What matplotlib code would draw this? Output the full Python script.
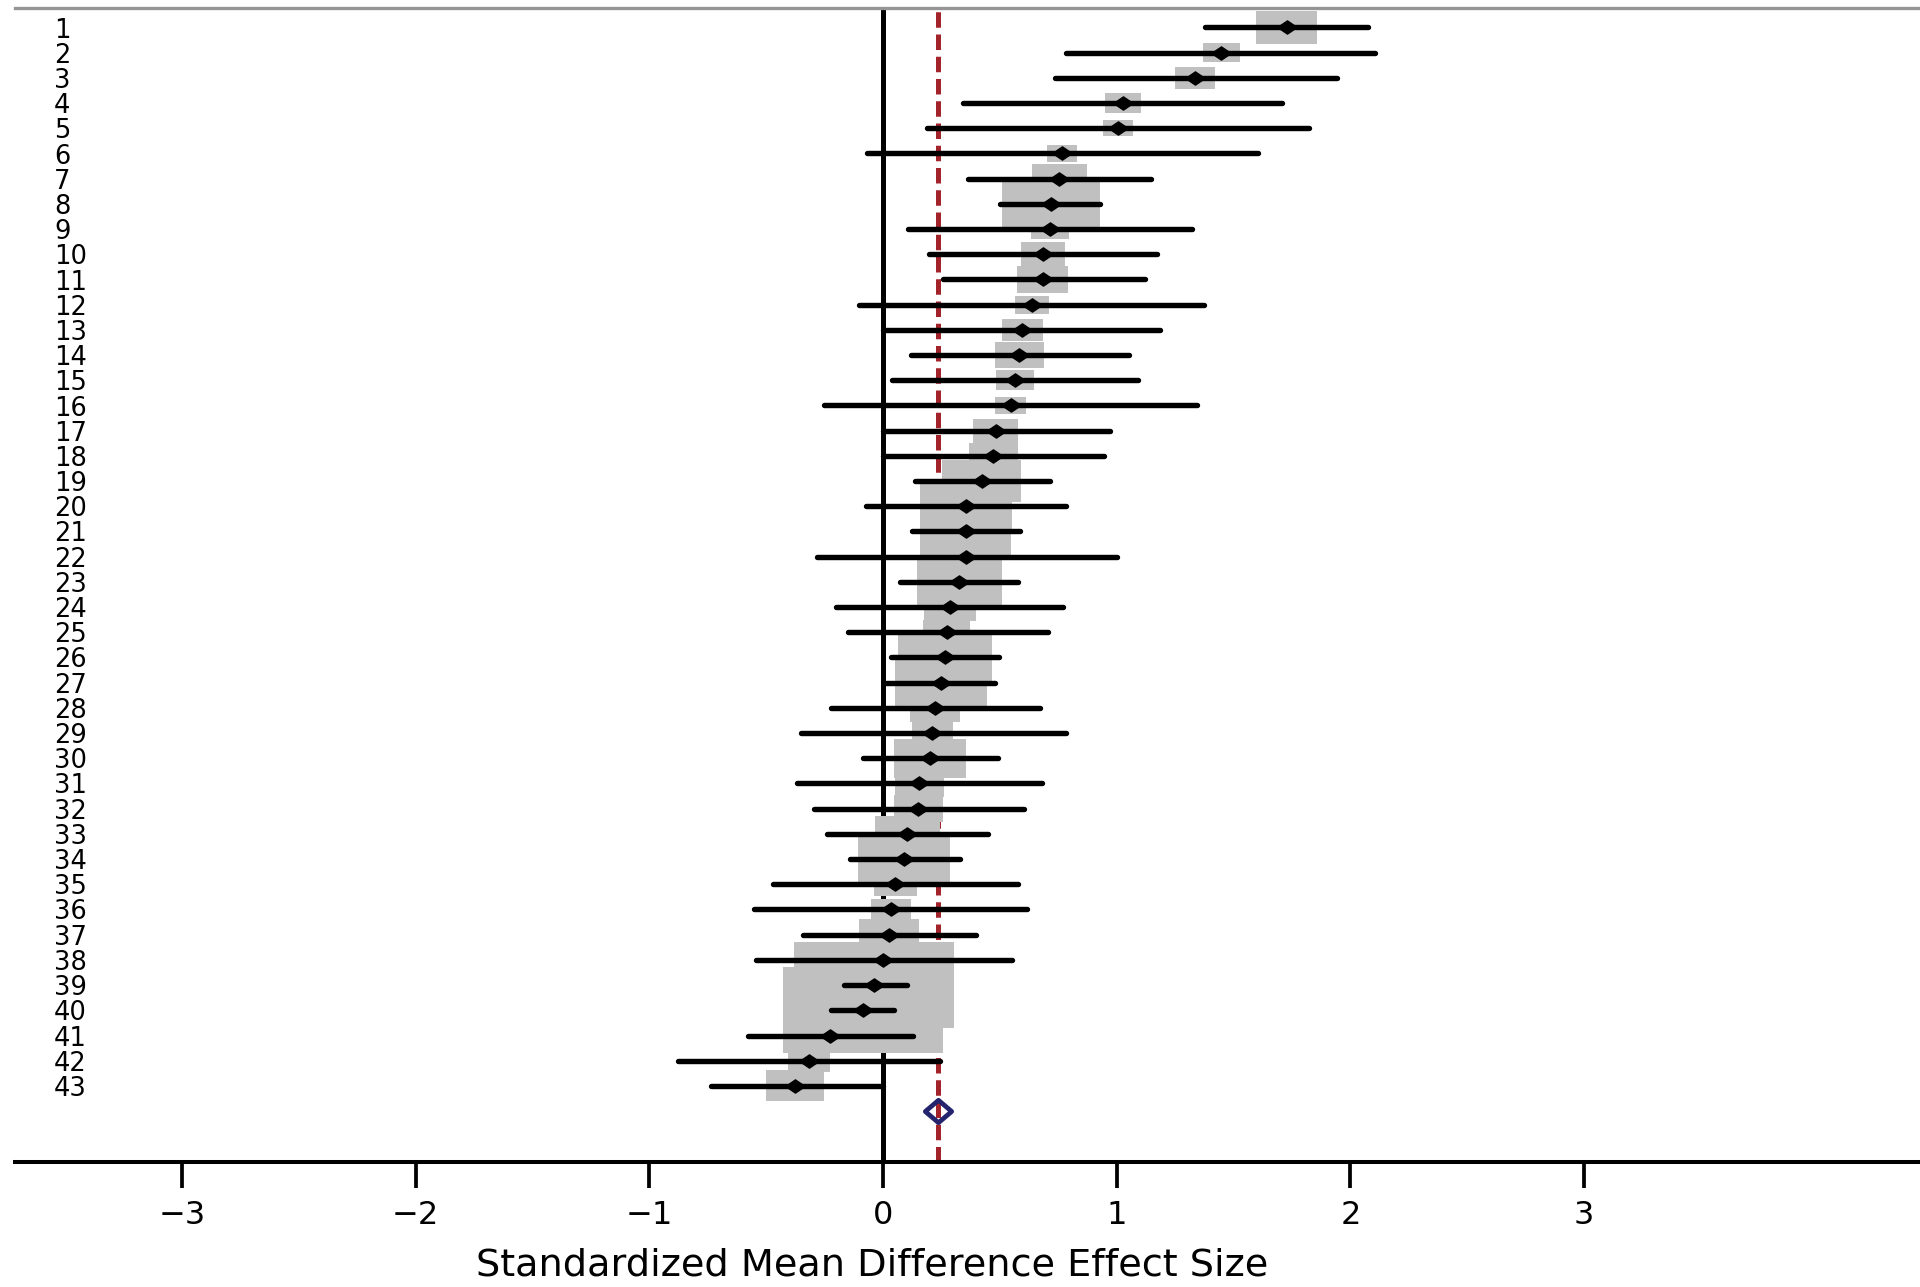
import matplotlib
matplotlib.use("Agg")
import matplotlib.pyplot as plt
from matplotlib.patches import Rectangle
from matplotlib.path import Path
import numpy as np

# ---------------- data ----------------
study_labels = [str(i) for i in range(1, 44)]

effect = [1.727, 1.448, 1.335, 1.026, 1.005, 0.765, 0.755, 0.718, 0.714, 0.683,
          0.683, 0.636, 0.596, 0.583, 0.565, 0.547, 0.482, 0.472, 0.422, 0.354,
          0.354, 0.354, 0.327, 0.287, 0.272, 0.265, 0.247, 0.222, 0.211, 0.201,
          0.155, 0.150, 0.104, 0.090, 0.052, 0.034, 0.026, 0.001, -0.039, -0.084,
          -0.227, -0.317, -0.377]

ci_low = [1.377, 0.781, 0.734, 0.342, 0.189, -0.070, 0.365, 0.500, 0.108, 0.198,
          0.255, -0.104, 0.000, 0.119, 0.037, -0.252, 0.000, 0.000, 0.137, -0.074,
          0.125, -0.283, 0.073, -0.203, -0.148, 0.034, 0.013, -0.222, -0.351, -0.084,
          -0.369, -0.294, -0.241, -0.141, -0.469, -0.550, -0.344, -0.545, -0.167, -0.224,
          -0.576, -0.877, -0.737]

ci_high = [2.074, 2.107, 1.941, 1.706, 1.822, 1.605, 1.145, 0.928, 1.324, 1.174,
           1.121, 1.374, 1.185, 1.054, 1.093, 1.345, 0.971, 0.946, 0.715, 0.782,
           0.586, 1.000, 0.579, 0.772, 0.705, 0.496, 0.479, 0.672, 0.782, 0.494,
           0.679, 0.605, 0.451, 0.329, 0.579, 0.615, 0.398, 0.551, 0.101, 0.048,
           0.127, 0.244, 0.000]

# relative study weight (box width, in effect-size units)
weight = [0.264, 0.155, 0.172, 0.153, 0.130, 0.128, 0.238, 0.420, 0.164, 0.188,
          0.221, 0.146, 0.174, 0.208, 0.160, 0.133, 0.190, 0.210, 0.338, 0.392,
          0.390, 0.120, 0.364, 0.221, 0.200, 0.400, 0.392, 0.217, 0.178, 0.310,
          0.210, 0.210, 0.280, 0.395, 0.185, 0.170, 0.257, 0.150, 0.685, 0.685,
          0.200, 0.178, 0.245]

summary_effect = 0.235
x_ticks = [-3, -2, -1, 0, 1, 2, 3]
x_label = "Standardized Mean Difference Effect Size"

# ---------------- figure ----------------
W, H = 1920, 1287
fig = plt.figure(figsize=(W / 100, H / 100), dpi=100)
ax_left, ax_top, ax_bottom = 15, 7.5, 1162
ax = fig.add_axes([ax_left / W, 1 - ax_bottom / H, 1 - ax_left / W, (ax_bottom - ax_top) / H])

x0_px, unit_px = 883, 233.7
ax.set_xlim((ax_left - x0_px) / unit_px, (W - x0_px) / unit_px)
row0_px, row_px = 27.5, 25.2
ax.set_ylim((ax_bottom - row0_px) / row_px + 1, (ax_top - row0_px) / row_px + 1)

rows = np.arange(1, len(effect) + 1)
box_aspect = 5.0  # rows of height per unit of width

# reference lines
ax.axvline(summary_effect, color="#A3232B", lw=3.6, linestyle=(0, (3.1, 1.35)), zorder=1)
ax.axvline(0, color="black", lw=3.6, zorder=1.5)

# weight boxes
for r, e, w in zip(rows, effect, weight):
    h = w * box_aspect
    ax.add_patch(Rectangle((e - w / 2, r - h / 2), w, h, facecolor="#C0C0C0",
                           edgecolor="none", zorder=2))

# confidence intervals
ax.hlines(rows, ci_low, ci_high, color="black", lw=3.9, zorder=3, capstyle="round")

# point estimates
diam = Path([(-1, 0), (0, 0.68), (1, 0), (0, -0.68), (-1, 0)],
            [Path.MOVETO, Path.LINETO, Path.LINETO, Path.LINETO, Path.CLOSEPOLY])
ax.plot(effect, rows, linestyle="none", marker=diam, markersize=14,
        color="black", zorder=4)

# summary diamond
sdiam = Path([(-1, 0), (0, 0.85), (1, 0), (0, -0.85), (-1, 0)],
             [Path.MOVETO, Path.LINETO, Path.LINETO, Path.LINETO, Path.CLOSEPOLY])
ax.plot([summary_effect], [len(effect) + 1], linestyle="none", marker=sdiam,
        markersize=19, markerfacecolor="none", markeredgecolor="#23236E",
        markeredgewidth=3.4, zorder=5)

# axes styling
for s in ["left", "right"]:
    ax.spines[s].set_visible(False)
ax.spines["top"].set_color("#959595")
ax.spines["top"].set_linewidth(2.4)
ax.spines["bottom"].set_color("black")
ax.spines["bottom"].set_linewidth(2.9)

ax.set_xticks(x_ticks)
ax.tick_params(axis="x", direction="out", length=18.5, width=2.7, pad=9,
               labelsize=23, colors="black")

ax.set_yticks(rows)
ax.set_yticklabels(study_labels)
ax.tick_params(axis="y", length=0, pad=-(54 - ax_left) * 0.72, labelsize=18.5)
for lab in ax.get_yticklabels():
    lab.set_horizontalalignment("left")

fig.text(872 / W, 1 - 1276 / H, x_label, ha="center", va="baseline", fontsize=27.5)

fig.savefig("out.png", dpi=100)
